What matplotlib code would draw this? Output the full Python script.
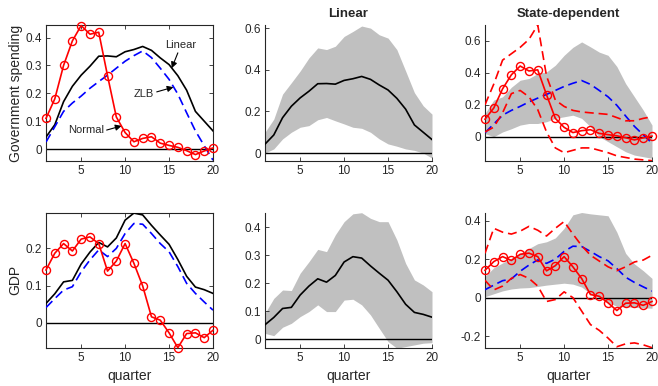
import numpy as np
import matplotlib
matplotlib.use("Agg")
import matplotlib.pyplot as plt
from matplotlib.ticker import FuncFormatter

plt.rcParams['font.family'] = ['Liberation Sans', 'DejaVu Sans']
plt.rcParams['lines.scale_dashes'] = False

quarters = list(range(1, 21))

# Government spending
gov_normal = [0.11, 0.18, 0.30, 0.388, 0.443, 0.412, 0.419, 0.263, 0.115, 0.059,
              0.026, 0.038, 0.044, 0.021, 0.013, 0.006, -0.006, -0.02, -0.007, 0.004]
gov_linear = [0.043, 0.087, 0.17, 0.225, 0.265, 0.297, 0.333, 0.334, 0.331, 0.349,
              0.357, 0.368, 0.354, 0.327, 0.303, 0.263, 0.211, 0.135, 0.10, 0.065]
gov_zlb = [0.025, 0.08, 0.135, 0.165, 0.19, 0.218, 0.242, 0.265, 0.29, 0.315,
           0.335, 0.352, 0.328, 0.29, 0.25, 0.197, 0.13, 0.065, 0.012, -0.04]
gov_lin_hi = [0.10, 0.163, 0.283, 0.338, 0.394, 0.457, 0.505, 0.497, 0.513, 0.56,
              0.584, 0.61, 0.60, 0.568, 0.552, 0.497, 0.394, 0.29, 0.227, 0.187]
gov_lin_lo = [0.0, 0.02, 0.068, 0.10, 0.124, 0.132, 0.16, 0.171, 0.155, 0.14,
              0.124, 0.119, 0.10, 0.068, 0.044, 0.033, 0.02, 0.013, 0.0, -0.024]
gov_zlb_hi = [0.146, 0.23, 0.25, 0.31, 0.354, 0.365, 0.396, 0.406, 0.448, 0.51,
              0.56, 0.594, 0.563, 0.53, 0.51, 0.44, 0.333, 0.25, 0.167, 0.073]
gov_zlb_lo = [0.02, 0.0, 0.03, 0.05, 0.073, 0.083, 0.083, 0.094, 0.115, 0.125,
              0.135, 0.115, 0.0625, 0.0, -0.031, -0.0625, -0.094, -0.115, -0.125, -0.135]
gov_nor_hi = [0.20, 0.33, 0.48, 0.52, 0.56, 0.61, 0.70, 0.38, 0.23, 0.19,
              0.165, 0.155, 0.15, 0.145, 0.14, 0.12, 0.10, 0.10, 0.115, 0.125]
gov_nor_lo = [0.03, 0.06, 0.15, 0.27, 0.29, 0.25, 0.17, 0.03, -0.07, -0.10,
              -0.085, -0.07, -0.07, -0.085, -0.10, -0.12, -0.13, -0.14, -0.145, -0.15]

# GDP
gdp_normal = [0.142, 0.187, 0.213, 0.193, 0.225, 0.231, 0.213, 0.139, 0.166, 0.213,
              0.16, 0.099, 0.016, 0.007, -0.027, -0.067, -0.029, -0.027, -0.04, -0.02]
gdp_linear = [0.052, 0.078, 0.11, 0.114, 0.158, 0.19, 0.216, 0.204, 0.228, 0.276,
              0.295, 0.29, 0.262, 0.236, 0.211, 0.17, 0.125, 0.096, 0.089, 0.079]
gdp_zlb = [0.041, 0.065, 0.088, 0.097, 0.137, 0.169, 0.196, 0.178, 0.2, 0.24,
           0.267, 0.265, 0.24, 0.213, 0.191, 0.151, 0.106, 0.079, 0.056, 0.034]
gdp_lin_hi = [0.093, 0.146, 0.176, 0.174, 0.236, 0.277, 0.321, 0.313, 0.373, 0.42,
              0.448, 0.452, 0.432, 0.42, 0.42, 0.355, 0.271, 0.212, 0.194, 0.17]
gdp_lin_lo = [0.021, 0.013, 0.043, 0.057, 0.081, 0.099, 0.123, 0.099, 0.099, 0.14,
              0.143, 0.123, 0.087, 0.039, -0.008, -0.032, -0.026, -0.02, -0.014, -0.012]
gdp_zlb_hi = [0.11, 0.155, 0.18, 0.205, 0.23, 0.255, 0.28, 0.29, 0.31, 0.36,
              0.43, 0.442, 0.435, 0.43, 0.425, 0.34, 0.23, 0.175, 0.14, 0.10]
gdp_zlb_lo = [0.005, 0.02, 0.035, 0.045, 0.05, 0.052, 0.058, 0.065, 0.07, 0.075,
              0.07, 0.055, 0.02, 0.0, -0.025, -0.045, -0.048, -0.05, -0.053, -0.055]
gdp_nor_hi = [0.23, 0.36, 0.34, 0.33, 0.345, 0.37, 0.35, 0.32, 0.36, 0.395,
              0.33, 0.27, 0.22, 0.19, 0.16, 0.14, 0.16, 0.185, 0.195, 0.22]
gdp_nor_lo = [0.09, 0.04, 0.06, 0.10, 0.12, 0.10, 0.06, -0.02, -0.01, 0.03,
              0.0, -0.07, -0.14, -0.17, -0.21, -0.255, -0.24, -0.235, -0.245, -0.26]

xticks = [5, 10, 15, 20]
row_labels = ['Government spending', 'GDP']
col_titles = ['', 'Linear', 'State-dependent']

RED = '#ff0000'
BLUE = '#0000ff'
GRAY = '#c0c0c0'
TXT = '#262626'

fig = plt.figure(figsize=(6.58, 3.86), dpi=100)

lefts = [46/658, 265/658, 485/658]
w = 167/658
bottoms = [1 - 161/386, 1 - 347.7/386]
hs = [136/386, 135/386]

ylims = [[(-0.043, 0.445), (-0.038, 0.615), (-0.152, 0.70)],
         [(-0.067, 0.296), (-0.03, 0.452), (-0.26, 0.441)]]
yticks = [[[0, 0.1, 0.2, 0.3, 0.4], [0, 0.2, 0.4, 0.6], [0, 0.2, 0.4, 0.6]],
          [[0, 0.1, 0.2], [0, 0.1, 0.2, 0.3, 0.4], [-0.2, 0, 0.2, 0.4]]]

fmt = FuncFormatter(lambda v, p: ('%g' % round(v, 3)))

data = [
    dict(normal=gov_normal, linear=gov_linear, zlb=gov_zlb, lhi=gov_lin_hi, llo=gov_lin_lo,
         zhi=gov_zlb_hi, zlo=gov_zlb_lo, nhi=gov_nor_hi, nlo=gov_nor_lo),
    dict(normal=gdp_normal, linear=gdp_linear, zlb=gdp_zlb, lhi=gdp_lin_hi, llo=gdp_lin_lo,
         zhi=gdp_zlb_hi, zlo=gdp_zlb_lo, nhi=gdp_nor_hi, nlo=gdp_nor_lo),
]

lw = 1.2
ms = 5.8
dash = (6.5, 3.5)

for r in range(2):
    d = data[r]
    for c in range(3):
        ax = fig.add_axes([lefts[c], bottoms[r], w, hs[r]])
        if c == 0:
            ax.plot(quarters, d['linear'], color='k', lw=lw, zorder=3)
            ax.plot(quarters, d['zlb'], color=BLUE, lw=lw, dashes=dash, zorder=3)
            ax.plot(quarters, d['normal'], color=RED, lw=lw, marker='o', ms=ms,
                    mfc='none', mec=RED, mew=1.0, zorder=4, clip_on=False)
            ax.tick_params(top=True, right=True)
            ax.set_ylabel(row_labels[r], fontsize=10, color=TXT, labelpad=2)
        elif c == 1:
            ax.fill_between(quarters, d['llo'], d['lhi'], color=GRAY, lw=0, zorder=1)
            ax.plot(quarters, d['linear'], color='k', lw=lw, zorder=3)
            for s in ['top', 'right']:
                ax.spines[s].set_visible(False)
        else:
            ax.fill_between(quarters, d['zlo'], d['zhi'], color=GRAY, lw=0, zorder=1)
            ax.plot(quarters, d['zlb'], color=BLUE, lw=lw, dashes=dash, zorder=3)
            ax.plot(quarters, d['nhi'], color=RED, lw=lw, dashes=dash, zorder=3)
            ax.plot(quarters, d['nlo'], color=RED, lw=lw, dashes=dash, zorder=3)
            ax.plot(quarters, d['normal'], color=RED, lw=lw, marker='o', ms=ms,
                    mfc='none', mec=RED, mew=1.0, zorder=4, clip_on=False)
            for s in ['top', 'right']:
                ax.spines[s].set_visible(False)
        ax.plot([1, 20], [0, 0], color='k', lw=1.0, zorder=2)
        ax.set_xlim(1, 20)
        ax.set_ylim(*ylims[r][c])
        ax.set_xticks(xticks)
        ax.set_yticks(yticks[r][c])
        ax.yaxis.set_major_formatter(fmt)
        ax.tick_params(direction='in', length=3, width=0.6, labelsize=8.5, colors=TXT,
                       pad=3)
        for s in ax.spines.values():
            s.set_color('#262626')
            s.set_linewidth(0.8)
        if r == 0 and col_titles[c]:
            ax.set_title(col_titles[c], fontsize=9.5, fontweight='bold', color=TXT, pad=6)
        if r == 1:
            ax.set_xlabel('quarter', fontsize=10, color=TXT, labelpad=4)
        if r == 0 and c == 0:
            ap = dict(arrowstyle='-|>', color='k', lw=0.8, mutation_scale=9,
                      shrinkA=0, shrinkB=0)
            ax.text(16.3, 0.372, 'Linear', fontsize=8, ha='center', va='center', color=TXT)
            ax.annotate('', xy=(15.3, 0.29), xytext=(16.0, 0.345), arrowprops=ap)
            ax.text(12.1, 0.197, 'ZLB', fontsize=8, ha='center', va='center', color=TXT)
            ax.annotate('', xy=(15.5, 0.222), xytext=(13.6, 0.205), arrowprops=ap)
            ax.text(5.6, 0.068, 'Normal', fontsize=8, ha='center', va='center', color=TXT)
            ax.annotate('', xy=(9.6, 0.083), xytext=(7.9, 0.068), arrowprops=ap)

fig.savefig('out.png', dpi=100)
